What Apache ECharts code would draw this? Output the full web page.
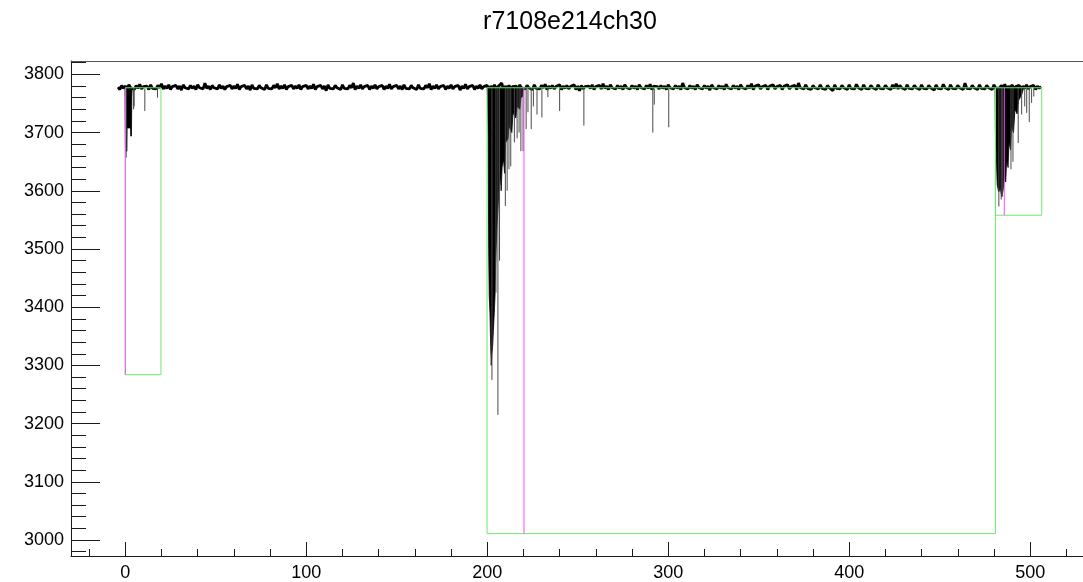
<!DOCTYPE html>
<html>
<head>
<meta charset="utf-8">
<script src="https://cdn.jsdelivr.net/npm/echarts@6/dist/echarts.min.js"></script>
<style>
html,body{margin:0;padding:0;background:#fff;}
#c{width:1083px;height:582px;}
</style>
</head>
<body>
<div id="c"></div>
<script>
// ---------------- data ----------------
const titleText = 'r7108e214ch30';
const xMajorTicks = [0, 100, 200, 300, 400, 500];
const xMinorTicks = [-20, 20, 40, 60, 80, 120, 140, 160, 180, 220, 240, 260, 280, 320, 340, 360, 380, 420, 440, 460, 480, 520];
const yMajorTicks = [3000, 3100, 3200, 3300, 3400, 3500, 3600, 3700, 3800];
const yMinorTicks = [2980, 3020, 3040, 3060, 3080, 3120, 3140, 3160, 3180, 3220, 3240, 3260, 3280, 3320, 3340, 3360, 3380,
  3420, 3440, 3460, 3480, 3520, 3540, 3560, 3580, 3620, 3640, 3660, 3680, 3720, 3740, 3760, 3780, 3820];

// waveform baseline samples, first sample at x = -4, one sample per unit
const waveStart = -4;
const waveStep = 1;
const waveValues = [
3778,3774,3781,3776,3780,3775,3782,3777,3779,3774,3781,3776,3783,3775,3779,3777,3780,3774,3782,3776,
3779,3775,3781,3777,3784,3775,3780,3776,3782,3774,3779,3777,3781,3775,3780,3773,3782,3777,3779,3775,
3781,3776,3780,3774,3782,3777,3779,3775,3785,3776,3780,3774,3781,3777,3779,3775,3782,3776,3780,3774,
3779,3777,3781,3775,3780,3776,3783,3774,3779,3777,3781,3775,3780,3773,3782,3776,3779,3775,3781,3777,
3780,3774,3782,3776,3779,3775,3781,3777,3784,3775,3780,3776,3782,3774,3779,3777,3781,3775,3780,3776,
3782,3774,3779,3777,3781,3775,3780,3776,3783,3774,3779,3777,3781,3775,3780,3772,3782,3776,3779,3775,
3781,3777,3780,3774,3782,3776,3779,3775,3781,3777,3785,3774,3780,3776,3782,3775,3779,3777,3781,3774,
3780,3776,3782,3775,3779,3777,3781,3774,3780,3776,3783,3775,3779,3777,3781,3775,3780,3774,3782,3776,
3779,3775,3781,3777,3780,3774,3782,3776,3779,3775,3781,3777,3784,3774,3780,3776,3782,3775,3779,3777,
3781,3774,3780,3776,3782,3775,3779,3777,3781,3773,3780,3776,3783,3775,3779,3777,3781,3774,3780,3776,
3782,3775,3779,3777,3781,3774,3780,3776,3782,3775,3779,3777,3785,3774,3780,3776,3781,3775,3779,3777,
3780,3774,3782,3776,3779,3775,3781,3777,3780,3774,3782,3776,3779,3775,3781,3777,3783,3774,3780,3776,
3781,3775,3779,3777,3782,3774,3780,3776,3781,3775,3779,3777,3782,3774,3780,3772,3781,3775,3779,3777,
3780,3776,3782,3774,3779,3777,3781,3775,3784,3776,3780,3774,3782,3777,3779,3775,3781,3776,3780,3774,
3782,3777,3779,3775,3781,3776,3780,3774,3782,3777,3779,3775,3781,3776,3783,3774,3780,3777,3779,3775,
3781,3776,3780,3774,3782,3777,3779,3775,3781,3776,3780,3774,3785,3777,3779,3775,3781,3776,3780,3774,
3782,3777,3779,3775,3781,3776,3780,3773,3782,3777,3779,3775,3781,3776,3780,3774,3783,3777,3779,3775,
3781,3776,3780,3774,3782,3777,3779,3775,3781,3776,3784,3774,3780,3777,3782,3775,3779,3776,3781,3774,
3780,3777,3782,3775,3779,3776,3781,3774,3780,3777,3782,3775,3779,3776,3781,3774,3785,3777,3780,3775,
3782,3776,3779,3774,3781,3777,3780,3775,3782,3776,3779,3774,3781,3777,3780,3772,3782,3776,3779,3775,
3781,3777,3780,3774,3782,3776,3779,3775,3783,3777,3780,3774,3782,3776,3779,3775,3781,3777,3780,3774,
3782,3776,3779,3775,3781,3777,3780,3774,3782,3776,3784,3775,3781,3777,3780,3774,3782,3776,3779,3775,
3781,3777,3780,3774,3782,3776,3779,3775,3781,3777,3780,3773,3782,3776,3779,3775,3783,3777,3780,3774,
3782,3776,3779,3775,3781,3777,3780,3774,3785,3776,3779,3775,3781,3777,3780,3774,3782,3776,3779,3775,
3781,3777,3780,3774,3782,3776,3779,3775,3781,3777,3783,3774,3780,3776,3782,3775,3779,3777,3781,3774,
3780,3776,3782,3775,3779,3777,3781,3774,3780,3776,3779
];

// dense pulse regions: lower envelope of the waveform, [x, y]
const pulse1Envelope = [[-0.2,3778],[0.1,3668],[0.9,3668],[1.0,3708],[2.9,3708],[3.0,3694],[3.4,3694],[3.6,3760],[3.8,3778]];
const pulse2Envelope = [[199.9,3778],[200.2,3760],[200.5,3700],[200.7,3560],[200.8,3499],[201.1,3419],[201.5,3391],[201.9,3333],
  [202.2,3300],[202.5,3318],[203.0,3333],[203.4,3360],[203.9,3391],[204.3,3419],[204.6,3470],[204.9,3499],[205.4,3540],[205.9,3568],
  [206.4,3597],[207.3,3625],[207.7,3600],[208.2,3640],[209.0,3654],[209.6,3630],[210.2,3683],[211.5,3690],[212.0,3711],[213.6,3700],
  [214.2,3734],[215.8,3725],[216.5,3745],[218.0,3740],[218.6,3760],[219.5,3762],[220.0,3778]];
const pulse3Envelope = [[480.6,3778],[480.8,3700],[481.3,3660],[481.8,3610],[482.6,3598],[483.5,3604],[484.3,3590],[485.1,3602],
  [485.8,3625],[486.5,3615],[487.0,3654],[487.8,3640],[488.3,3683],[489.2,3670],[489.7,3711],[490.8,3700],[491.6,3740],
  [492.8,3732],[493.6,3755],[495.3,3765],[496.5,3778]];

// single-sample downward spikes: [x, lowest value]
const spikeTop = 3776;
const spikes = [
  [0.5,3657],[4.6,3740],[4.9,3745],[10.8,3737],[17.8,3760],
  [202.6,3275],[205.9,3215],[204.8,3425],[206.8,3480],[210.0,3574],[211.0,3600],[212.0,3637],[213.0,3642],[215.0,3683],[216.5,3690],
  [217.6,3700],[218.6,3668],[219.8,3668],[221.5,3706],[222.5,3735],[224.3,3706],[225.5,3745],[227.5,3731],[230.2,3726],[233.5,3761],[240.0,3737],
  [253.4,3712],[291.5,3700],[292.3,3748],[300.3,3709],
  [482.7,3573],[484.0,3585],[484.6,3590],[489.4,3637],[490.5,3650],[493.4,3682],[495.3,3731],[497.0,3745],[498.1,3734],
  [499.5,3718],[500.8,3751],[502.0,3762]
];

// analysis windows (green boxes) and peak markers (magenta)
const winStart  = [0, 199.9, 480.8];
const winEnd    = [19.7, 480.8, 506.4];
const winTop    = [3777, 3777, 3777];
const winBottom = [3284, 3011, 3558];
const peakX     = [0, 220.3, 485.7];

// ---------------- chart ----------------
const envelopes = [pulse1Envelope, pulse2Envelope, pulse3Envelope];
const xMin = -30, xMax = 529.2, yMin = 2972.5, yMax = 3823;
const FONT = 'Liberation Sans, Arial, Helvetica, sans-serif';
const AX = '#1a1a1a';

const waveData = waveValues.map((v, i) => [waveStart + i * waveStep, v]);

const series = [];
series.push({
  type: 'line', data: waveData, showSymbol: false, symbol: 'none', animation: false,
  lineStyle: { color: '#000', width: 2.8 }, z: 2, silent: true
});
series.push({
  type: 'custom', animation: false, silent: true, z: 3,
  data: envelopes.map((e, i) => [e[0][0], e[0][1]]),
  renderItem: function (params, api) {
    const env = envelopes[params.dataIndex];
    return { type: 'polygon', shape: { points: env.map(p => api.coord(p)) }, style: { fill: '#000', stroke: '#000', lineWidth: 0.8 } };
  }
});
series.push({
  type: 'custom', animation: false, silent: true, z: 3,
  data: spikes,
  renderItem: function (params, api) {
    const a = api.coord([api.value(0), spikeTop]);
    const b = api.coord([api.value(0), api.value(1)]);
    return { type: 'line', shape: { x1: a[0], y1: a[1], x2: b[0], y2: b[1] }, style: { stroke: '#4a4a4a', lineWidth: 1 } };
  }
});
for (let i = 0; i < winStart.length; i++) {
  series.push({
    type: 'line', animation: false, silent: true, symbol: 'none', z: 4,
    data: [[winStart[i], winTop[i]], [winStart[i], winBottom[i]], [winEnd[i], winBottom[i]], [winEnd[i], winTop[i]], [winStart[i], winTop[i]]],
    lineStyle: { color: '#6ee86e', width: 1 }
  });
  series.push({
    type: 'line', animation: false, silent: true, symbol: 'none', z: 5,
    data: [[peakX[i], winTop[i]], [peakX[i], winBottom[i]]],
    lineStyle: { color: '#ff4cff', width: 1 }
  });
}

const chart = echarts.init(document.getElementById('c'), null, { renderer: 'canvas' });
chart.setOption({
  animation: false,
  backgroundColor: '#fff',
  graphic: [{
    type: 'text', x: 570, y: 22,
    style: { text: titleText, font: '25px ' + FONT, fill: '#000', textAlign: 'center', textVerticalAlign: 'middle' }
  }],
  grid: { left: 71, right: 0, top: 61, bottom: 26, containLabel: false },
  xAxis: [
    {
      type: 'value', min: xMin, max: xMax, position: 'bottom',
      axisLine: { show: true, onZero: false, lineStyle: { color: AX, width: 1 } },
      axisTick: { show: true, inside: true, length: 14, customValues: xMajorTicks, lineStyle: { color: AX, width: 1 } },
      axisLabel: { show: true, customValues: xMajorTicks, margin: 8, color: '#000', fontSize: 18, fontFamily: FONT, formatter: v => String(v) },
      splitLine: { show: false }
    },
    {
      type: 'value', min: xMin, max: xMax, position: 'bottom',
      axisLine: { show: false, onZero: false },
      axisTick: { show: true, inside: true, length: 7, customValues: xMinorTicks, lineStyle: { color: AX, width: 1 } },
      axisLabel: { show: false },
      splitLine: { show: false }
    },
    {
      type: 'value', min: xMin, max: xMax, position: 'top',
      axisLine: { show: true, onZero: false, lineStyle: { color: '#555', width: 1 } },
      axisTick: { show: false }, axisLabel: { show: false }, splitLine: { show: false }
    }
  ],
  yAxis: [
    {
      type: 'value', min: yMin, max: yMax, position: 'left',
      axisLine: { show: true, onZero: false, lineStyle: { color: AX, width: 1 } },
      axisTick: { show: true, inside: true, length: 29, customValues: yMajorTicks, lineStyle: { color: AX, width: 1 } },
      axisLabel: { show: true, customValues: yMajorTicks, margin: 7, color: '#000', fontSize: 18, fontFamily: FONT, formatter: v => String(v) },
      splitLine: { show: false }
    },
    {
      type: 'value', min: yMin, max: yMax, position: 'left',
      axisLine: { show: false, onZero: false },
      axisTick: { show: true, inside: true, length: 15, customValues: yMinorTicks, lineStyle: { color: AX, width: 1 } },
      axisLabel: { show: false },
      splitLine: { show: false }
    }
  ],
  series: series
});
</script>
</body>
</html>
